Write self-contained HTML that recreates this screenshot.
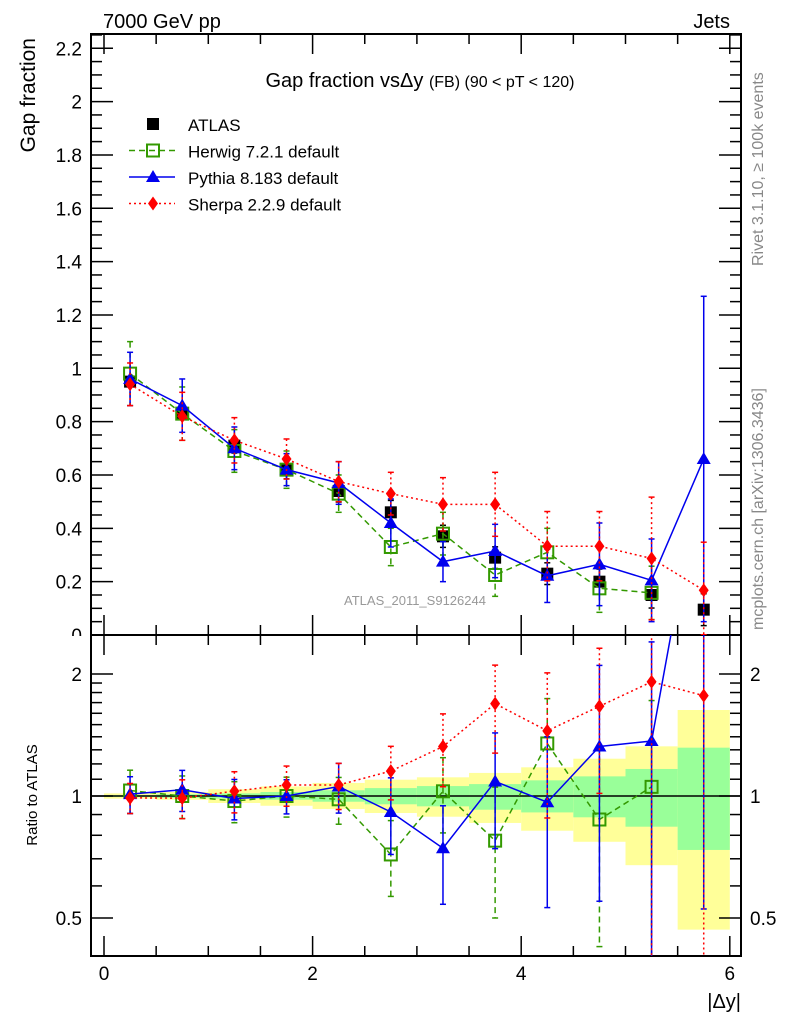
<!DOCTYPE html>
<html><head><meta charset="utf-8"><style>
html,body{margin:0;padding:0;background:#fff;width:786px;height:1024px;overflow:hidden;}
svg{display:block;font-family:"Liberation Sans",sans-serif;}
</style></head><body>
<svg id="c" width="786" height="1024" viewBox="0 0 786 1024" xmlns="http://www.w3.org/2000/svg">
<g id="bands"></g>
<g id="axes"></g>
<g id="series"></g>
<text x="103" y="28" font-size="20">7000 GeV pp</text>
<text x="730" y="28" font-size="20" text-anchor="end">Jets</text>
<text x="420" y="87" font-size="20" text-anchor="middle">Gap fraction vs<tspan font-size="20">Δy</tspan> <tspan font-size="16">(FB) (90 &lt; pT &lt; 120)</tspan></text>
<text transform="translate(35,38) rotate(-90)" font-size="21" text-anchor="end">Gap fraction</text>
<text transform="translate(37,795) rotate(-90)" font-size="15" text-anchor="middle">Ratio to ATLAS</text>
<text x="741" y="1008" font-size="20" text-anchor="end">|Δy|</text>
<text transform="translate(763,266) rotate(-90)" font-size="16" fill="#888">Rivet 3.1.10, ≥ 100k events</text>
<text transform="translate(763,630) rotate(-90)" font-size="16" fill="#888">mcplots.cern.ch [arXiv:1306.3436]</text>
<text x="415" y="605" font-size="13" fill="#999" text-anchor="middle">ATLAS_2011_S9126244</text>
<g id="legend"></g>
</svg>
<script>
const xCenters=[0.25,0.75,1.25,1.75,2.25,2.75,3.25,3.75,4.25,4.75,5.25,5.75];
const atlas=[0.95,0.83,0.71,0.62,0.54,0.46,0.37,0.29,0.23,0.20,0.15,0.095];
const bandTotUp=[1.015,1.023,1.039,1.056,1.077,1.097,1.112,1.14,1.177,1.236,1.326,1.63];
const bandTotDn=[0.985,0.979,0.961,0.946,0.929,0.908,0.889,0.858,0.821,0.771,0.675,0.468];
const bandStatUp=[1.005,1.01,1.015,1.023,1.033,1.046,1.058,1.07,1.093,1.118,1.166,1.316];
const bandStatDn=[0.995,0.99,0.985,0.979,0.968,0.954,0.943,0.925,0.911,0.886,0.840,0.736];
const herwig=[0.98,0.83,0.69,0.62,0.53,0.33,0.38,0.225,0.31,0.175,0.158];
const herwigErr=[0.12,0.10,0.08,0.07,0.07,0.07,0.08,0.08,0.09,0.09,0.10];
const pythia=[0.96,0.86,0.70,0.62,0.57,0.42,0.275,0.315,0.222,0.265,0.205,0.66];
const pythiaErr=[0.10,0.10,0.08,0.06,0.08,0.09,0.075,0.10,0.10,0.155,0.155,0.61];
const sherpa=[0.94,0.82,0.73,0.66,0.575,0.53,0.49,0.49,0.333,0.333,0.287,0.168];
const sherpaErr=[0.08,0.09,0.085,0.075,0.075,0.08,0.10,0.12,0.13,0.13,0.23,0.18];
const mainTicks=[0,0.2,0.4,0.6,0.8,1,1.2,1.4,1.6,1.8,2,2.2];
const mainTickLabels=["0","0.2","0.4","0.6","0.8","1","1.2","1.4","1.6","1.8","2","2.2"];
const xTicks=[0,2,4,6];
const xTickLabels=["0","2","4","6"];
const ratioTicks=[0.5,1,2];
const ratioTickLabels=["0.5","1","2"];

const NS="http://www.w3.org/2000/svg";
const L=91,R=741,T=34,MB=635,RB=956;
const X=v=>104+v*104.3;
const Y=v=>635-v*266.7;
const RY=r=>796-122*Math.log2(r);
function mk(parent,tag,attrs){const e=document.createElementNS(NS,tag);for(const k in attrs)e.setAttribute(k,attrs[k]);parent.appendChild(e);return e;}
const axes=document.getElementById('axes'),ser=document.getElementById('series'),bands=document.getElementById('bands');

xCenters.forEach((xc,i)=>{
  const x0=X(xc-0.25),x1=X(xc+0.25);
  const t=mk(bands,'rect',{x:x0,y:RY(bandTotUp[i]),width:x1-x0,height:RY(bandTotDn[i])-RY(bandTotUp[i]),fill:'#ffff99'});
  
  
  const s=mk(bands,'rect',{x:x0,y:RY(bandStatUp[i]),width:x1-x0,height:RY(bandStatDn[i])-RY(bandStatUp[i]),fill:'#99ff99'});
  
  
});
const defs=mk(document.getElementById('c'),'defs',{});
const cp1=mk(defs,'clipPath',{id:'cm'});mk(cp1,'rect',{x:L,y:T,width:R-L,height:MB-T});
const cp2=mk(defs,'clipPath',{id:'cr'});mk(cp2,'rect',{x:L,y:MB,width:R-L,height:RB-MB});
ser.parentNode.insertBefore(defs,ser);

mainTicks.forEach((v,i)=>{const t=mk(axes,'text',{x:82,y:Y(v)+7,'font-size':19,'text-anchor':'end'});t.textContent=mainTickLabels[i];

});
mk(axes,'rect',{x:55,y:636,width:35,height:20,fill:'#fff'});

[[T,MB],[MB,RB]].forEach(([a,b])=>{const f=mk(axes,'rect',{x:L,y:a,width:R-L,height:b-a,fill:'none',stroke:'#000','stroke-width':2});

});
mk(axes,'line',{x1:L,x2:R,y1:RY(1),y2:RY(1),stroke:'#000','stroke-width':1.5});
for(let v=0;v<=2.25+1e-9;v+=0.05){const y=Y(v);const maj=Math.abs(v*5-Math.round(v*5))<1e-6;const len=maj?22:11;
 mk(axes,'line',{x1:L,x2:L+len,y1:y,y2:y,stroke:'#000','stroke-width':1.5});
 mk(axes,'line',{x1:R,x2:R-len,y1:y,y2:y,stroke:'#000','stroke-width':1.5});}
for(let v=0;v<=6.01;v+=0.5){const x=X(v);const maj=Math.abs(v/2-Math.round(v/2))<1e-6;const len=maj?20:10;
 mk(axes,'line',{x1:x,x2:x,y1:MB,y2:MB-len,stroke:'#000','stroke-width':1.5});
 mk(axes,'line',{x1:x,x2:x,y1:T,y2:T+len,stroke:'#000','stroke-width':1.5});
 mk(axes,'line',{x1:x,x2:x,y1:RB,y2:RB-len,stroke:'#000','stroke-width':1.5});
 mk(axes,'line',{x1:x,x2:x,y1:MB,y2:MB+len,stroke:'#000','stroke-width':1.5});}
xTicks.forEach((v,i)=>{const t=mk(axes,'text',{x:X(v),y:980,'font-size':19,'text-anchor':'middle'});t.textContent=xTickLabels[i];

});
[0.5,0.6,0.7,0.8,0.9,1,2].forEach(v=>{const y=RY(v);const maj=ratioTicks.includes(v);const len=maj?22:11;
 mk(axes,'line',{x1:L,x2:L+len,y1:y,y2:y,stroke:'#000','stroke-width':1.5});
 mk(axes,'line',{x1:R,x2:R-len,y1:y,y2:y,stroke:'#000','stroke-width':1.5});});
for(let v=1.1;v<1.95;v+=0.1){const y=RY(v);mk(axes,'line',{x1:L,x2:L+11,y1:y,y2:y,stroke:'#000','stroke-width':1.5});mk(axes,'line',{x1:R,x2:R-11,y1:y,y2:y,stroke:'#000','stroke-width':1.5});}
ratioTicks.forEach((v,i)=>{[82,750].forEach(xx=>{const t=mk(axes,'text',{x:xx,y:RY(v)+7,'font-size':19,'text-anchor':xx<400?'end':'start'});t.textContent=ratioTickLabels[i];

});});

function marker(g,type,x,y,color){
  if(type==='sq') mk(g,'rect',{x:x-6,y:y-6,width:12,height:12,fill:'#000'});
  else if(type==='osq') mk(g,'rect',{x:x-6,y:y-6,width:12,height:12,fill:'#fff','fill-opacity':0,stroke:color,'stroke-width':2});
  else if(type==='tri') mk(g,'polygon',{points:`${x},${y-7} ${x-7},${y+5} ${x+7},${y+5}`,fill:color});
  else if(type==='dia') mk(g,'polygon',{points:`${x},${y-7} ${x-5},${y} ${x},${y+7} ${x+5},${y}`,fill:color});
}
function drawSeries(name,vals,errs,color,dash,type,ratio){
  const g=mk(ser,'g',{'clip-path':ratio?'url(#cr)':'url(#cm)'});
  
  
  const fy=(v,i)=>ratio?RY(Math.max(v/atlas[i],0.01)):Y(v);
  const pts=vals.map((v,i)=>`${X(xCenters[i])},${fy(v,i)}`).join(' ');
  if(type!=='sq') mk(g,'polyline',{points:pts,fill:'none',stroke:color,'stroke-width':1.5,'stroke-dasharray':dash});
  vals.forEach((v,i)=>{const x=X(xCenters[i]);const e=errs[i];
    const y1=fy(v+e,i),y2=fy(Math.max(v-e,0.001),i);
    mk(g,'line',{x1:x,x2:x,y1:y1,y2:y2,stroke:color,'stroke-width':1.5,'stroke-dasharray':dash});
    mk(g,'line',{x1:x-3,x2:x+3,y1:y1,y2:y1,stroke:color,'stroke-width':1.5});
    mk(g,'line',{x1:x-3,x2:x+3,y1:y2,y2:y2,stroke:color,'stroke-width':1.5});
    const m=mk(g,'g',{});
    
    
    marker(m,type,x,fy(v,i),color);});
}
const atlasErr=atlas.map((v,i)=>v*(bandTotUp[i]-1));
drawSeries('atlas',atlas,atlasErr,'#000','','sq',false);
drawSeries('herwig',herwig,herwigErr,'#339900','6,4','osq',false);
drawSeries('pythia',pythia,pythiaErr,'#0000ee','','tri',false);
drawSeries('sherpa',sherpa,sherpaErr,'#ff0000','2,3','dia',false);
drawSeries('herwig',herwig,herwigErr,'#339900','6,4','osq',true);
drawSeries('pythia',pythia,pythiaErr,'#0000ee','','tri',true);
drawSeries('sherpa',sherpa,sherpaErr,'#ff0000','2,3','dia',true);

const lg=document.getElementById('legend');
const items=[['ATLAS','#000','','sq'],['Herwig 7.2.1 default','#339900','6,4','osq'],['Pythia 8.183 default','#0000ee','','tri'],['Sherpa 2.2.9 default','#ff0000','2,3','dia']];
items.forEach((it,i)=>{const y=124+i*26.5;const g=mk(lg,'g',{});
 
 
 if(it[3]!=='sq') mk(g,'line',{x1:129,x2:175,y1:y,y2:y,stroke:it[1],'stroke-width':1.5,'stroke-dasharray':it[2]});
 marker(g,it[3],153,y,it[1]);
 const t=mk(g,'text',{x:188,y:y+7,'font-size':17});t.textContent=it[0];});
</script>
</body></html>
